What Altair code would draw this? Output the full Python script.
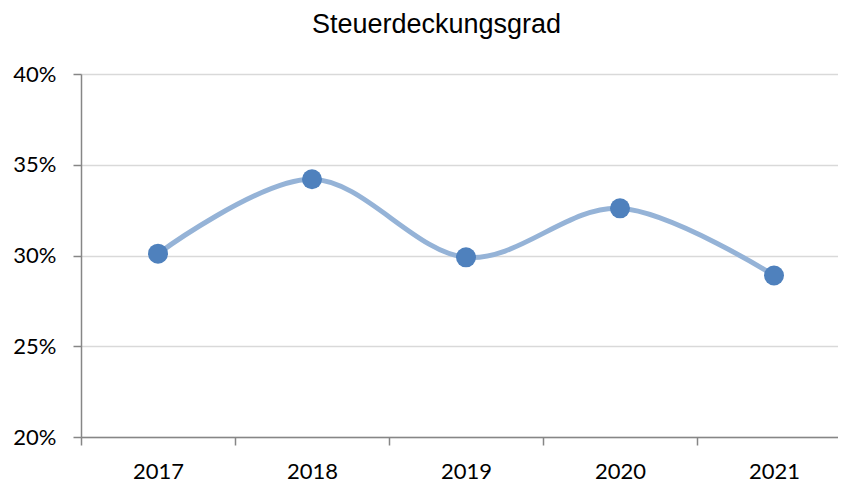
import altair as alt
import pandas as pd

years = ["2017", "2018", "2019", "2020", "2021"]
values = [0.301, 0.342, 0.299, 0.326, 0.289]
y_ticks = [0.20, 0.25, 0.30, 0.35, 0.40]

df = pd.DataFrame({"Jahr": years, "Wert": values})

AXIS_GRAY = "#868686"
GRID_GRAY = "#d9d9d9"
LABEL_FONT = "Lato"

x = alt.X(
    "Jahr:O",
    sort=years,
    scale=alt.Scale(type="band", range=[0, 770], paddingInner=0, paddingOuter=0),
    axis=alt.Axis(
        title=None,
        labelAngle=0,
        tickBand="extent",
        tickSize=8,
        tickColor=AXIS_GRAY,
        tickWidth=1.5,
        domainColor=AXIS_GRAY,
        domainWidth=1.5,
        labelFont=LABEL_FONT,
        labelFontSize=22,
        labelColor="#000000",
        labelPadding=16,
        grid=False,
    ),
)
y = alt.Y(
    "Wert:Q",
    scale=alt.Scale(domain=[0.2, 0.4], nice=False, zero=False),
    axis=alt.Axis(
        title=None,
        format=".0%",
        values=y_ticks,
        tickSize=8,
        tickColor=AXIS_GRAY,
        tickWidth=1.5,
        domainColor=AXIS_GRAY,
        domainWidth=1.5,
        grid=True,
        gridColor=GRID_GRAY,
        gridWidth=1.5,
        labelFont=LABEL_FONT,
        labelFontSize=22,
        labelColor="#000000",
        labelPadding=17,
    ),
)

base = alt.Chart(df).encode(x=x, y=y)
line = base.mark_line(interpolate="cardinal", color="#95b3d7", strokeWidth=5)
points = base.mark_point(filled=True, size=400, color="#4f81bd", opacity=1, shape="circle")

chart = (
    alt.layer(line, points)
    .properties(
        width=757,
        height=363,
        title=alt.TitleParams(
            "Steuerdeckungsgrad",
            font="Liberation Sans",
            fontSize=27,
            fontWeight="normal",
            color="#000000",
            anchor="middle",
            frame="group",
            dx=-23,
            dy=-20,
        ),
        autosize=alt.AutoSizeParams(type="none"),
        padding={"left": 73, "top": 66, "right": 0, "bottom": 45},
    )
    .configure_view(stroke=None)
)

chart.save("out.html", embed_options={"renderer": "svg", "actions": False})
